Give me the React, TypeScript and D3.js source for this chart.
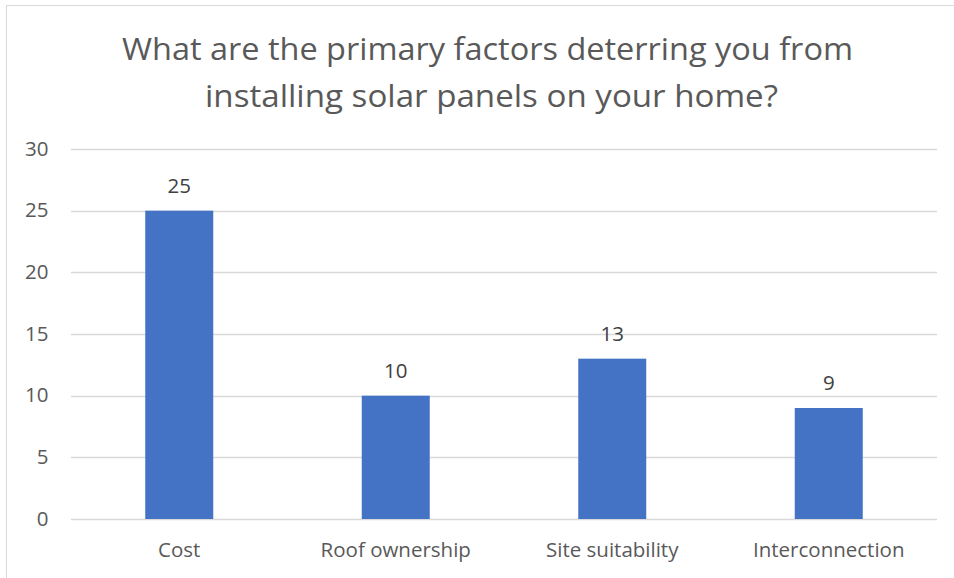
import React from "react";
import * as d3 from "d3";

const categories = ["Cost", "Roof ownership", "Site suitability", "Interconnection"];
const values = [25, 10, 13, 9];
const yTicks = [0, 5, 10, 15, 20, 25, 30];
const titleLines = ["What are the primary factors deterring you from", "installing solar panels on your home?"];

export default function App() {
  const W = 954, H = 578;
  const left = 71, right = 937, top = 149, bottom = 519;
  const x = d3.scaleBand<string>().domain(categories).range([left, right]).paddingInner(0).paddingOuter(0);
  const y = d3.scaleLinear().domain([0, 30]).range([bottom, top]);
  const barW = 68;
  const font = "'Open Sans', sans-serif";
  const grey = "#595959";
  const fs = 20.5;
  return (
    <svg width={W} height={H} style={{ position: "absolute", left: 0, top: 0 }}>
      <rect x={0} y={0} width={W} height={H} fill="#fff" />
      <rect x={6.5} y={5.5} width={W + 10} height={H + 10} fill="none" stroke="#D9D9D9" strokeWidth={1} />
      <text x={487.5} y={60} textAnchor="middle" fontFamily={font} fontSize={31} fill={grey} textLength={731} lengthAdjust="spacingAndGlyphs">{titleLines[0]}</text>
      <text x={491.5} y={107} textAnchor="middle" fontFamily={font} fontSize={31} fill={grey} textLength={573} lengthAdjust="spacingAndGlyphs">{titleLines[1]}</text>
      {yTicks.map((t) => (
        <g key={t}>
          <line x1={left} x2={right} y1={Math.round(y(t)) + 0.5} y2={Math.round(y(t)) + 0.5} stroke="#D9D9D9" strokeWidth={1.3} />
          <text x={48.5} y={y(t) + 6.8} textAnchor="end" fontFamily={font} fontSize={fs} fill={grey}>{t}</text>
        </g>
      ))}
      {categories.map((c, i) => {
        const cx = (x(c) as number) + x.bandwidth() / 2;
        return (
          <g key={c}>
            <rect x={cx - barW / 2} y={y(values[i])} width={barW} height={y(0) - y(values[i])} fill="#4472C4" />
            <text x={cx} y={y(values[i]) - 18} textAnchor="middle" fontFamily={font} fontSize={fs} fill="#404040">{values[i]}</text>
            <text x={cx} y={557} textAnchor="middle" fontFamily={font} fontSize={fs} fill={grey}>{c}</text>
          </g>
        );
      })}
    </svg>
  );
}
